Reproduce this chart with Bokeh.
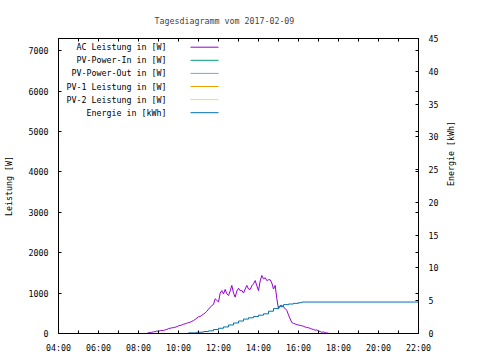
import math
from bokeh.plotting import figure
from bokeh.models import Range1d, LinearAxis, FixedTicker, Label
from bokeh.embed import file_html
from bokeh.resources import INLINE

TITLE = "Tagesdiagramm vom 2017-02-09"

# AC power in W, sampled every 5 minutes from 08:25 (minutes since midnight)
AC_T = list(range(505, 1056, 5))
AC_W = [0, 20, 25, 30, 40, 45, 60, 55, 70, 75,
        75, 90, 100, 120, 130, 140, 145, 155, 170, 190,
        200, 210, 230, 240, 255, 270, 280, 300, 320, 350,
        380, 410, 420, 450, 480, 510, 550, 600, 650, 690,
        720, 860, 820, 780, 1000, 1060, 980, 1090, 980, 940,
        1050, 1190, 1000, 900, 1050, 1120, 1060, 1065, 1000, 1100,
        1190, 1100, 1090, 1180, 1230, 1310, 1180, 1060, 1300, 1435,
        1350, 1380, 1310, 1330, 1330, 1250, 1100, 1190, 860, 610,
        690, 700, 650, 620, 570, 460, 360, 270, 250, 235,
        220, 210, 200, 190, 180, 160, 150, 140, 130, 110,
        100, 80, 90, 60, 50, 30, 40, 20, 15, 5, 0]

# Energy in kWh (minutes since midnight)
E_T = [575, 630, 655, 675, 690, 705, 720, 735, 750, 765, 780, 795, 810,
       825, 840, 855, 870, 885, 900, 915, 930, 945, 960, 970, 1320]
E_KWH = [0.0, 0.1, 0.2, 0.3, 0.4, 0.6, 0.8, 1.0, 1.3, 1.6, 1.9, 2.2, 2.4,
         2.6, 2.8, 3.0, 3.4, 3.8, 4.1, 4.4, 4.5, 4.6, 4.7, 4.8, 4.8]

LEGEND_LABELS = ["AC Leistung in [W]", "PV-Power-In in [W]", "PV-Power-Out in [W]",
                 "PV-1 Leistung in [W]", "PV-2 Leistung in [W]", "Energie in [kWh]"]
LEGEND_COLORS = ["#9400d3", "#009e73", "#56b4e9", "#e69f00", "#f0e442", "#0072b2"]

X_HOURS = list(range(4, 23))
X_LABELS = {h: (f"{h:02d}:00" if h % 2 == 0 else "") for h in X_HOURS}
W_TICKS = [0, 1000, 2000, 3000, 4000, 5000, 6000, 7000]
E_TICKS = [0, 5, 10, 15, 20, 25, 30, 35, 40, 45]
W_MAX = 7300
E_MAX = 45

FONT = "DejaVu Sans Mono"
FS = "8.3px"

p = figure(width=480, height=360, output_backend="svg", toolbar_location=None,
           x_range=Range1d(4, 22), y_range=Range1d(0, W_MAX),
           min_border_left=58, min_border_right=62, min_border_top=38,
           min_border_bottom=27)
p.extra_y_ranges = {"e": Range1d(0, E_MAX)}
p.grid.visible = False
p.outline_line_color = "black"
p.outline_line_width = 1
p.background_fill_color = "white"
p.border_fill_color = "white"

p.title.text = TITLE
p.title.text_font = FONT
p.title.text_font_size = FS
p.title.text_font_style = "normal"
p.title.align = "left"
p.title.offset = 96
p.title.standoff = 25

def style_axis(ax):
    ax.axis_line_color = "black"
    ax.major_tick_line_color = "black"
    ax.minor_tick_line_color = "black"
    ax.major_tick_in = 3
    ax.major_tick_out = 0
    ax.minor_tick_in = 3
    ax.minor_tick_out = 0
    ax.major_label_text_font = FONT
    ax.major_label_text_font_size = FS
    ax.major_label_text_color = "black"
    ax.axis_label_text_font = FONT
    ax.axis_label_text_font_size = FS
    ax.axis_label_text_font_style = "normal"
    ax.axis_label_text_color = "black"

xa = p.xaxis[0]
style_axis(xa)
xa.ticker = FixedTicker(ticks=X_HOURS)
xa.major_label_overrides = X_LABELS
xa.major_label_standoff = 9

ya = p.yaxis[0]
style_axis(ya)
ya.ticker = FixedTicker(ticks=W_TICKS)
ya.axis_label = "Leistung [W]"
ya.major_label_standoff = 10
ya.axis_label_standoff = 12

top = LinearAxis(ticker=FixedTicker(ticks=X_HOURS))
style_axis(top)
top.major_label_text_font_size = "0px"
top.major_label_standoff = 0
top.major_label_overrides = {h: "" for h in X_HOURS}
p.add_layout(top, "above")

ra = LinearAxis(y_range_name="e",
                ticker=FixedTicker(ticks=E_TICKS,
                                   minor_ticks=[w * E_MAX / W_MAX for w in W_TICKS]),
                axis_label="Energie [kWh]")
style_axis(ra)
ra.major_label_standoff = 10
ra.axis_label_standoff = 10
ra.axis_label_orientation = math.pi / 2
p.add_layout(ra, "right")

p.line([t / 60 for t in AC_T], AC_W, line_color=LEGEND_COLORS[0], line_width=1)
p.step([t / 60 for t in E_T], E_KWH, mode="after", y_range_name="e",
       line_color=LEGEND_COLORS[5], line_width=1)

# legend (text right-aligned, sample line to the right)
px_x = 18 / 360.0   # hours per pixel
px_y = W_MAX / 295.0
text_right = 4 + 108 * px_x
line_x0 = 4 + 132 * px_x
line_x1 = 4 + 160 * px_x
for i, (lab, col) in enumerate(zip(LEGEND_LABELS, LEGEND_COLORS)):
    yy = W_MAX - (8.7 + i * 13.1) * px_y
    p.add_layout(Label(x=text_right, y=yy, text=lab, text_align="right",
                       text_baseline="middle", text_font=FONT, text_font_size=FS,
                       text_color="black"))
    p.segment(x0=[line_x0], y0=[yy], x1=[line_x1], y1=[yy], line_color=col,
              line_width=1)

open("out.html", "w").write(file_html(p, INLINE))
